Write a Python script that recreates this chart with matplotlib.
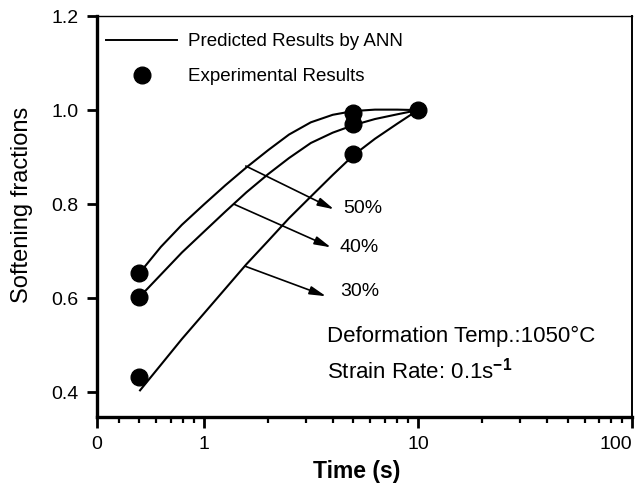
import matplotlib
matplotlib.use("Agg")
import matplotlib.pyplot as plt
from matplotlib.lines import Line2D
from matplotlib.ticker import FixedLocator, LogLocator, NullFormatter

plt.rcParams["font.family"] = ["Liberation Sans", "DejaVu Sans"]
plt.rcParams["mathtext.fontset"] = "custom"
plt.rcParams["mathtext.rm"] = "Liberation Sans"
plt.rcParams["mathtext.bf"] = "Liberation Sans:bold"

# experimental points (time in s, softening fraction)
exp_time = [0.5, 0.5, 0.5, 5, 5, 5, 10]
exp_frac = [0.653, 0.602, 0.432, 0.993, 0.970, 0.906, 1.0]

# ANN predicted curves
pred_time = [0.5, 0.63, 0.79, 1, 1.26, 1.58, 2, 2.5, 3.16, 4, 5, 6.3, 8, 10]
pred_50 = [0.653, 0.709, 0.756, 0.799, 0.840, 0.878, 0.915, 0.948, 0.974, 0.990, 0.998, 1.001, 1.001, 1.0]
pred_40 = [0.602, 0.650, 0.697, 0.741, 0.784, 0.825, 0.864, 0.898, 0.930, 0.952, 0.968, 0.981, 0.991, 1.0]
pred_30 = [0.402, 0.458, 0.513, 0.567, 0.620, 0.672, 0.722, 0.770, 0.816, 0.862, 0.904, 0.939, 0.971, 1.0]

# arrow labels: (label, arrow start x, y, arrow tip x, y)
arrows = [
    ("50%", 1.57, 0.881, 4.05, 0.789),
    ("40%", 1.38, 0.800, 3.92, 0.708),
    ("30%", 1.555, 0.668, 3.72, 0.604),
]
label_x = [4.46, 4.32, 4.32]
label_y = [0.790, 0.708, 0.613]

xticks = [10 ** -0.5, 1, 10, 100]
xtick_labels = ["0", "1", "10", "100"]
yticks = [0.4, 0.6, 0.8, 1.0, 1.2]


def main():
    fig = plt.figure(figsize=(6.41, 4.88), dpi=100)
    ax = fig.add_axes([0.151, 0.1455, 0.835, 0.8215])

    for ys in (pred_50, pred_40, pred_30):
        ax.plot(pred_time, ys, color="black", lw=1.5, solid_capstyle="butt")
    ax.plot(exp_time, exp_frac, "o", color="black", ms=12, ls="none")

    for (lab, x0, y0, x1, y1), tx, ty in zip(arrows, label_x, label_y):
        ax.annotate("", xy=(x1, y1), xytext=(x0, y0),
                    arrowprops=dict(arrowstyle="-|>,head_length=0.7,head_width=0.18",
                                    color="black", lw=1.2, mutation_scale=14,
                                    shrinkA=0, shrinkB=0))
        ax.text(tx, ty, lab, fontsize=14, ha="left", va="center")

    ax.text(0.43, 0.202, "Deformation Temp.:1050\u00b0C", transform=ax.transAxes,
            fontsize=16, ha="left", va="center")
    ax.text(0.43, 0.117, r"Strain Rate: 0.1s$^{\mathbf{-1}}$", transform=ax.transAxes,
            fontsize=16, ha="left", va="center")

    ax.set_xscale("log")
    ax.set_xlim(10 ** -0.5, 100)
    ax.set_ylim(0.347, 1.2)
    ax.xaxis.set_major_locator(FixedLocator(xticks))
    ax.set_xticklabels(xtick_labels)
    ax.xaxis.set_minor_locator(LogLocator(base=10, subs=range(2, 10)))
    ax.xaxis.set_minor_formatter(NullFormatter())
    ax.set_yticks(yticks)
    ax.set_yticklabels([f"{v:.1f}" for v in yticks])
    ax.get_xticklabels()[-1].set_horizontalalignment("right")

    ax.tick_params(axis="both", which="major", direction="out", length=7, width=2,
                   labelsize=14, pad=6)
    ax.tick_params(axis="x", which="minor", direction="out", length=4.5, width=1.6)
    ax.tick_params(axis="x", which="major", length=8)

    ax.spines["left"].set_linewidth(2.4)
    ax.spines["bottom"].set_linewidth(2.4)
    ax.spines["top"].set_linewidth(1.0)
    ax.spines["right"].set_linewidth(1.4)

    ax.set_xlabel("Time (s)", fontsize=16.5, fontweight="bold", va="top")
    ax.xaxis.set_label_coords(0.486, -0.108)
    ax.set_ylabel("Softening fractions", fontsize=17)
    ax.yaxis.set_label_coords(-0.12, 0.529)

    handles = [
        Line2D([], [], color="black", lw=1.4),
        Line2D([], [], marker="o", color="black", ms=12, ls="none"),
    ]
    ax.legend(handles, ["Predicted Results by ANN", "Experimental Results"],
              loc="upper left", bbox_to_anchor=(0.017, 0.957), frameon=False,
              fontsize=13.5, handlelength=3.8, handletextpad=0.6,
              labelspacing=0.95, borderpad=0, borderaxespad=0)

    fig.savefig("out.png", dpi=100)


if __name__ == "__main__":
    main()
